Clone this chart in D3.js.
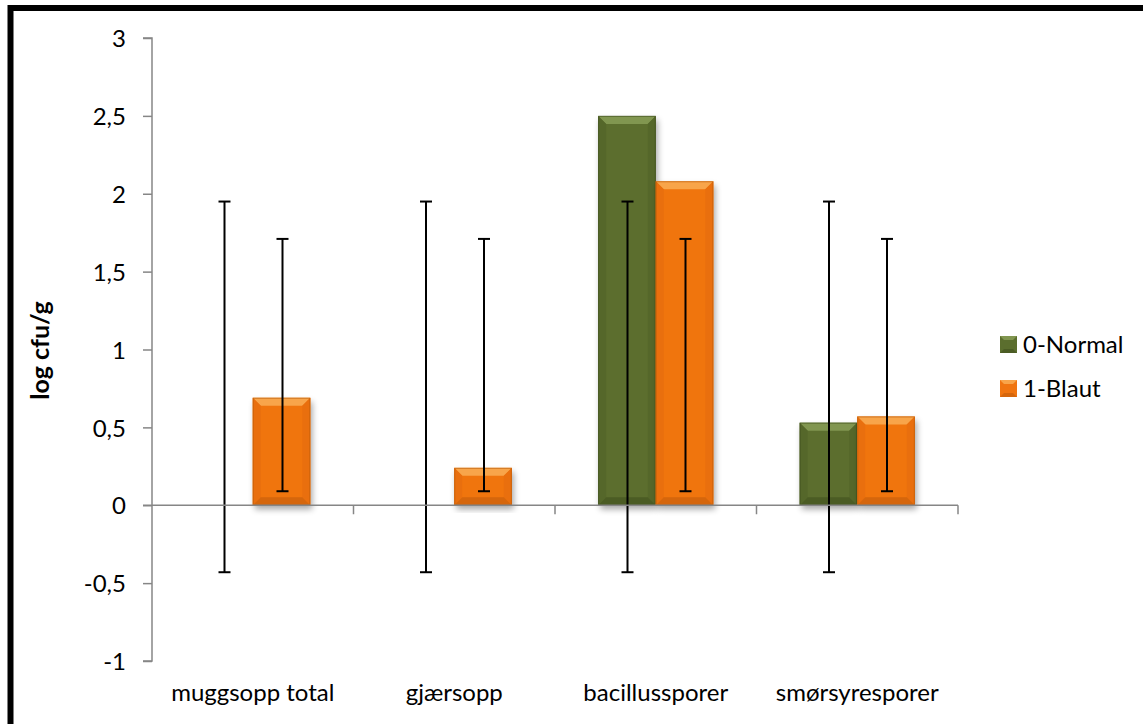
<!DOCTYPE html>
<html>
<head>
<meta charset="utf-8">
<script src="https://cdn.jsdelivr.net/npm/d3@7"></script>
<style>
  html, body { margin: 0; padding: 0; background: #fff; }
  svg { display: block; }
  text { font-family: Lato, "Open Sans", sans-serif; fill: #000; }
</style>
</head>
<body>
<svg id="chart" width="1143" height="724"></svg>
<script>
// Data: mean log cfu/g per group, with error bar extents
const categories = ["muggsopp total", "gjærsopp", "bacillussporer", "smørsyresporer"];
const seriesNames = ["0-Normal", "1-Blaut"];
const normalValues = [0, 0, 2.5, 0.53];
const blautValues = [0.69, 0.24, 2.08, 0.57];
const normalErrLow = [-0.43, -0.43, -0.43, -0.43];
const normalErrHigh = [1.95, 1.95, 1.95, 1.95];
const blautErrLow = [0.09, 0.09, 0.09, 0.09];
const blautErrHigh = [1.71, 1.71, 1.71, 1.71];
const yTicks = [-1, -0.5, 0, 0.5, 1, 1.5, 2, 2.5, 3];

const svg = d3.select("#chart");
const W = 1143, H = 724;
const plot = { left: 152, right: 958, top: 38, bottom: 661 };
const FONT = 24;

// Outer frame
svg.append("rect")
  .attr("x", 10.5).attr("y", 8)
  .attr("width", W + 20).attr("height", H + 20)
  .attr("fill", "none").attr("stroke", "#000").attr("stroke-width", 6);

const palettes = [
  { main: "#5b6e2e", light: "#819650", dark: "#4b5c24", side: "#55672a", edge: "#3e4c1d" },
  { main: "#f07510", light: "#f8a54a", dark: "#d5660c", side: "#e96f0e", edge: "#b85a0a" }
];

const defs = svg.append("defs");
const shadow = defs.append("filter").attr("id", "shadow")
  .attr("x", "-20%").attr("y", "-20%").attr("width", "140%").attr("height", "140%");
shadow.append("feGaussianBlur").attr("in", "SourceAlpha").attr("stdDeviation", 3);
shadow.append("feOffset").attr("dx", 2).attr("dy", 4).attr("result", "blur");
shadow.append("feComponentTransfer").append("feFuncA").attr("type", "linear").attr("slope", 0.35);
const merge = shadow.append("feMerge");
merge.append("feMergeNode");
merge.append("feMergeNode").attr("in", "SourceGraphic");

const x0 = d3.scaleBand().domain(categories).range([plot.left, plot.right]).paddingInner(0).paddingOuter(0);
const groupW = x0.bandwidth();
const barW = groupW / 3.5;
const x1 = d3.scaleBand().domain(seriesNames)
  .range([(groupW - 2 * barW) / 2, (groupW + 2 * barW) / 2]);
const y = d3.scaleLinear().domain([-1, 3]).range([plot.bottom, plot.top]);

// Y axis
const yAxis = svg.append("g").attr("transform", `translate(${plot.left},0)`)
  .call(d3.axisLeft(y).tickValues(yTicks).tickSize(9).tickPadding(17)
    .tickFormat(d => String(d).replace(".", ",")));
yAxis.selectAll("path, line").attr("stroke", "#868686").attr("stroke-width", 1.5);
yAxis.select(".domain").attr("d", `M-9,${y(3)}H0V${y(-1)}H-9`);
yAxis.selectAll("text").attr("font-size", FONT).attr("dy", "0.36em")
  .style("font-family", "Lato, 'Open Sans', sans-serif");

svg.append("text")
  .attr("transform", `translate(49,${(plot.top + plot.bottom) / 2 + 1}) rotate(-90)`)
  .attr("text-anchor", "middle").attr("font-size", 25).attr("font-weight", "bold")
  .text("log cfu/g");

const seriesData = categories.map((c, i) => ({
  cat: c,
  bars: [
    { s: 0, v: normalValues[i], lo: normalErrLow[i], hi: normalErrHigh[i] },
    { s: 1, v: blautValues[i], lo: blautErrLow[i], hi: blautErrHigh[i] }
  ]
}));

// Bars with bevel
const groups = svg.append("g").selectAll("g").data(seriesData).join("g")
  .attr("transform", d => `translate(${x0(d.cat)},0)`);

groups.each(function(d) {
  const g = d3.select(this);
  d.bars.forEach(b => {
    if (b.v === 0) return;
    const p = palettes[b.s];
    const bx = x1(seriesNames[b.s]);
    const top = y(Math.max(0, b.v)), bot = y(Math.min(0, b.v));
    const h = bot - top;
    const bev = Math.min(8, h / 2.2);
    const bg = g.append("g");
    bg.append("rect").attr("x", bx).attr("y", top).attr("width", barW).attr("height", h)
      .attr("fill", p.main).attr("filter", "url(#shadow)");
    const L = bx, R = bx + barW;
    bg.append("path").attr("fill", p.light)
      .attr("d", `M${L},${top}H${R}L${R - bev},${top + bev}H${L + bev}Z`);
    bg.append("path").attr("fill", p.side)
      .attr("d", `M${L},${top}L${L + bev},${top + bev}V${bot - bev}L${L},${bot}Z`);
    bg.append("path").attr("fill", p.side)
      .attr("d", `M${R},${top}L${R - bev},${top + bev}V${bot - bev}L${R},${bot}Z`);
    bg.append("path").attr("fill", p.dark)
      .attr("d", `M${L},${bot}H${R}L${R - bev},${bot - bev}H${L + bev}Z`);
    bg.append("rect").attr("x", L + 0.5).attr("y", top + 0.5).attr("width", barW - 1).attr("height", h - 1)
      .attr("fill", "none").attr("stroke", p.edge).attr("stroke-width", 1).attr("opacity", 0.6);
  });
});

// X axis along zero
const xAxis = svg.append("g").attr("transform", `translate(0,${y(0)})`);
xAxis.append("path").attr("d", `M${plot.left - 9},0H${plot.right}`)
  .attr("stroke", "#868686").attr("stroke-width", 1.5).attr("fill", "none");
xAxis.selectAll("line.tick").data(categories.map((c, i) => x0(c) + groupW))
  .join("line").attr("class", "tick")
  .attr("x1", d => d).attr("x2", d => d).attr("y1", 0).attr("y2", 9)
  .attr("stroke", "#868686").attr("stroke-width", 1.5);

svg.append("g").selectAll("text").data(categories).join("text")
  .attr("x", d => x0(d) + groupW / 2).attr("y", 701)
  .attr("text-anchor", "middle").attr("font-size", FONT)
  .text(d => d);

// Error bars
groups.each(function(d) {
  const g = d3.select(this);
  d.bars.forEach(b => {
    const cx = Math.round(x1(seriesNames[b.s]) + barW / 2) + 0.5;
    const eg = g.append("g").attr("stroke", "#000").attr("stroke-width", 2);
    eg.append("line").attr("x1", cx).attr("x2", cx).attr("y1", y(b.lo)).attr("y2", y(b.hi));
    eg.append("line").attr("x1", cx - 6).attr("x2", cx + 6).attr("y1", y(b.lo)).attr("y2", y(b.lo));
    eg.append("line").attr("x1", cx - 6).attr("x2", cx + 6).attr("y1", y(b.hi)).attr("y2", y(b.hi));
  });
});

// Legend
const legend = svg.append("g").attr("transform", "translate(1000,336)");
seriesNames.forEach((name, i) => {
  const p = palettes[i];
  const lg = legend.append("g").attr("transform", `translate(0,${i * 44})`);
  const s = 17, bv = 4;
  lg.append("rect").attr("width", s).attr("height", s).attr("fill", p.main);
  lg.append("path").attr("fill", p.light).attr("d", `M0,0H${s}L${s - bv},${bv}H${bv}Z`);
  lg.append("path").attr("fill", p.dark).attr("d", `M0,${s}H${s}L${s - bv},${s - bv}H${bv}Z`);
  lg.append("text").attr("x", 23).attr("y", s / 2 + 8).attr("font-size", FONT).text(name);
});
</script>
</body>
</html>
